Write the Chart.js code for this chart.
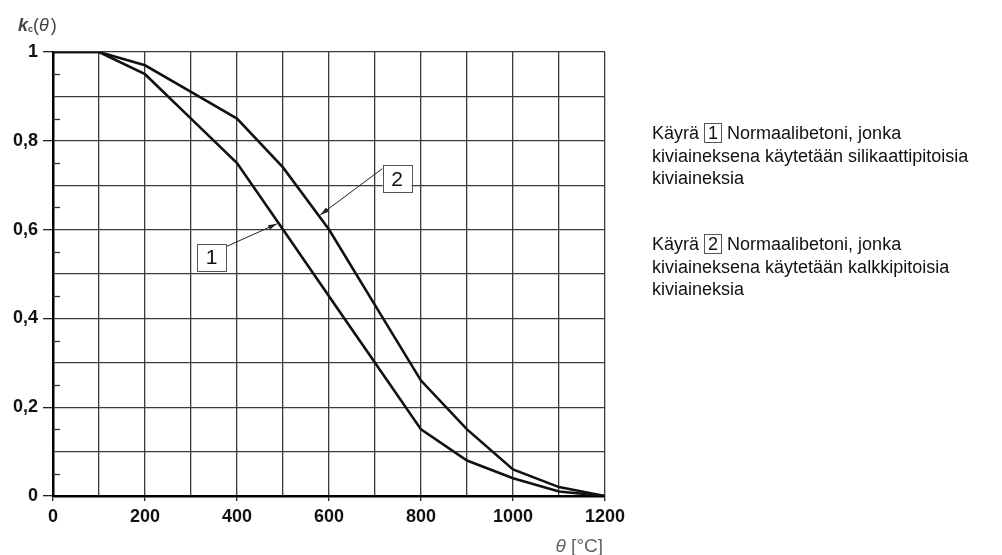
<!DOCTYPE html>
<html>
<head>
<meta charset="utf-8">
<script src="https://cdn.jsdelivr.net/npm/chart.js@4"></script>
<style>
  body { margin: 0; background: #fff; }
  #wrap { position: relative; width: 1002px; height: 555px; }
  #kc { position: absolute; left: 0; top: 0; }
  .note { position: absolute; left: 652px; font: 18px "Liberation Sans", Arial, sans-serif; line-height: 22.5px; color: #111; }
  .num { display: inline-block; border: 1px solid #555; padding: 0 3px; line-height: 18px; }
</style>
</head>
<body>
<div id="wrap">
  <canvas id="kc" width="1002" height="555"></canvas>
  <div class="note" style="top:122px">Käyrä <span class="num">1</span> Normaalibetoni, jonka<br>kiviaineksena käytetään silikaattipitoisia<br>kiviaineksia</div>
  <div class="note" style="top:233px">Käyrä <span class="num">2</span> Normaalibetoni, jonka<br>kiviaineksena käytetään kalkkipitoisia<br>kiviaineksia</div>
</div>
<script>
  // temperature (°C) and reduction factor kc(θ)
  const temps = [0, 100, 200, 300, 400, 500, 600, 700, 800, 900, 1000, 1100, 1200];
  const kcSiliceous = [1, 1, 0.95, 0.85, 0.75, 0.60, 0.45, 0.30, 0.15, 0.08, 0.04, 0.01, 0];
  const kcCalcareous = [1, 1, 0.97, 0.91, 0.85, 0.74, 0.60, 0.43, 0.26, 0.15, 0.06, 0.02, 0];

  const xTicks = [0, 100, 200, 300, 400, 500, 600, 700, 800, 900, 1000, 1100, 1200];
  const xLabels = [0, 200, 400, 600, 800, 1000, 1200];
  const yTicks = [0, 0.1, 0.2, 0.3, 0.4, 0.5, 0.6, 0.7, 0.8, 0.9, 1];
  const yLabels = [0, 0.2, 0.4, 0.6, 0.8, 1];
  const yMinor = [0.05, 0.15, 0.25, 0.35, 0.45, 0.55, 0.65, 0.75, 0.85, 0.95];

  // curve number boxes: box centre and arrow tip in data units
  const curveTags = [
    { text: '1', box: [345, 0.538], tip: [487, 0.613] },
    { text: '2', box: [748, 0.714], tip: [581, 0.633] }
  ];

  const SANS = '"Liberation Sans", Arial, sans-serif';
  const isLabel = (list, v) => list.some(l => Math.abs(l - v) < 1e-6);
  const fmt = v => String(Math.round(v * 10) / 10).replace('.', ',');

  const extras = {
    id: 'extras',
    afterDraw(chart) {
      const c = chart.ctx, x = chart.scales.x, y = chart.scales.y;
      c.save();
      // short inward ticks between the labelled lines
      c.strokeStyle = '#333';
      c.lineWidth = 1.3;
      yMinor.forEach(v => {
        const py = Math.round(y.getPixelForValue(v)) + 0.5;
        c.beginPath();
        c.moveTo(x.left, py);
        c.lineTo(x.left + 7, py);
        c.stroke();
      });

      // boxed curve numbers with arrows
      curveTags.forEach(t => {
        const bx = x.getPixelForValue(t.box[0]), by = y.getPixelForValue(t.box[1]);
        const tx = x.getPixelForValue(t.tip[0]), ty = y.getPixelForValue(t.tip[1]);
        const w = 29, h = 27;
        const sx = tx > bx ? bx + w / 2 : bx - w / 2;
        const sy = by - h / 2 + 3;
        c.strokeStyle = '#222';
        c.fillStyle = '#222';
        c.lineWidth = 1;
        c.beginPath();
        c.moveTo(sx, sy);
        c.lineTo(tx, ty);
        c.stroke();
        const a = Math.atan2(ty - sy, tx - sx);
        c.beginPath();
        c.moveTo(tx, ty);
        c.lineTo(tx - 9 * Math.cos(a) + 2.5 * Math.sin(a), ty - 9 * Math.sin(a) - 2.5 * Math.cos(a));
        c.lineTo(tx - 9 * Math.cos(a) - 2.5 * Math.sin(a), ty - 9 * Math.sin(a) + 2.5 * Math.cos(a));
        c.closePath();
        c.fill();
        c.fillStyle = '#fff';
        c.fillRect(bx - w / 2, by - h / 2, w, h);
        c.strokeStyle = '#555';
        c.strokeRect(Math.round(bx - w / 2) + 0.5, Math.round(by - h / 2) + 0.5, w, h);
        c.fillStyle = '#111';
        c.font = '21px ' + SANS;
        c.textAlign = 'center';
        c.textBaseline = 'middle';
        c.fillText(t.text, bx, by + 1);
      });

      // axis titles
      c.textAlign = 'left';
      c.textBaseline = 'alphabetic';
      c.fillStyle = '#444';
      let px = 18;
      const part = (txt, font, dy, gap) => {
        c.font = font;
        c.fillText(txt, px, 31 + (dy || 0));
        px += c.measureText(txt).width + (gap || 0);
      };
      part('k', 'italic bold 18px ' + SANS);
      part('c', 'bold 9px ' + SANS, 1);
      part('(', '18px ' + SANS);
      part('θ', 'italic 18px ' + SANS, 0, 2);
      part(')', '18px ' + SANS);

      c.fillStyle = '#666';
      c.textAlign = 'right';
      c.font = '19px ' + SANS;
      const unit = ' [°C]';
      c.fillText(unit, 603, 552);
      const uw = c.measureText(unit).width;
      c.font = 'italic 19px ' + SANS;
      c.fillText('θ', 603 - uw, 552);
      c.restore();
    }
  };

  const ctx = document.getElementById('kc').getContext('2d');
  const chart = new Chart(ctx, {
    type: 'line',
    data: {
      datasets: [
        { label: '1', data: temps.map((t, i) => ({ x: t, y: kcSiliceous[i] })) },
        { label: '2', data: temps.map((t, i) => ({ x: t, y: kcCalcareous[i] })) }
      ]
    },
    options: {
      responsive: false,
      animation: false,
      layout: { padding: { left: 0, top: 52, right: 397, bottom: 29 } },
      elements: {
        line: { borderColor: '#111', borderWidth: 2.6, tension: 0, fill: false },
        point: { radius: 0 }
      },
      plugins: { legend: { display: false }, tooltip: { enabled: false } },
      scales: {
        x: {
          type: 'linear',
          min: 0,
          max: 1200,
          afterFit: s => { s.height = 30; },
          afterBuildTicks: s => { s.ticks = xTicks.map(v => ({ value: v })); },
          border: { color: '#000', width: 2.5 },
          grid: {
            color: '#3a3a3a',
            lineWidth: 1.3,
            tickLength: 5,
            tickColor: c => isLabel(xLabels, c.tick.value) ? '#222' : 'rgba(0,0,0,0)'
          },
          ticks: {
            autoSkip: false,
            maxRotation: 0,
            padding: 5,
            color: '#111',
            font: { family: SANS, size: 18, weight: 'bold' },
            callback: v => isLabel(xLabels, v) ? String(v) : ''
          }
        },
        y: {
          type: 'linear',
          min: 0,
          max: 1,
          afterFit: s => { s.width = 53; },
          afterBuildTicks: s => { s.ticks = yTicks.map(v => ({ value: v })); },
          border: { color: '#000', width: 2.5 },
          grid: {
            color: '#3a3a3a',
            lineWidth: 1.3,
            tickLength: 10,
            tickColor: c => isLabel(yLabels, c.tick.value) ? '#222' : 'rgba(0,0,0,0)'
          },
          ticks: {
            autoSkip: false,
            padding: 5,
            color: '#111',
            font: { family: SANS, size: 18, weight: 'bold' },
            callback: v => isLabel(yLabels, v) ? fmt(v) : ''
          }
        }
      }
    },
    plugins: [extras]
  });
</script>
</body>
</html>
